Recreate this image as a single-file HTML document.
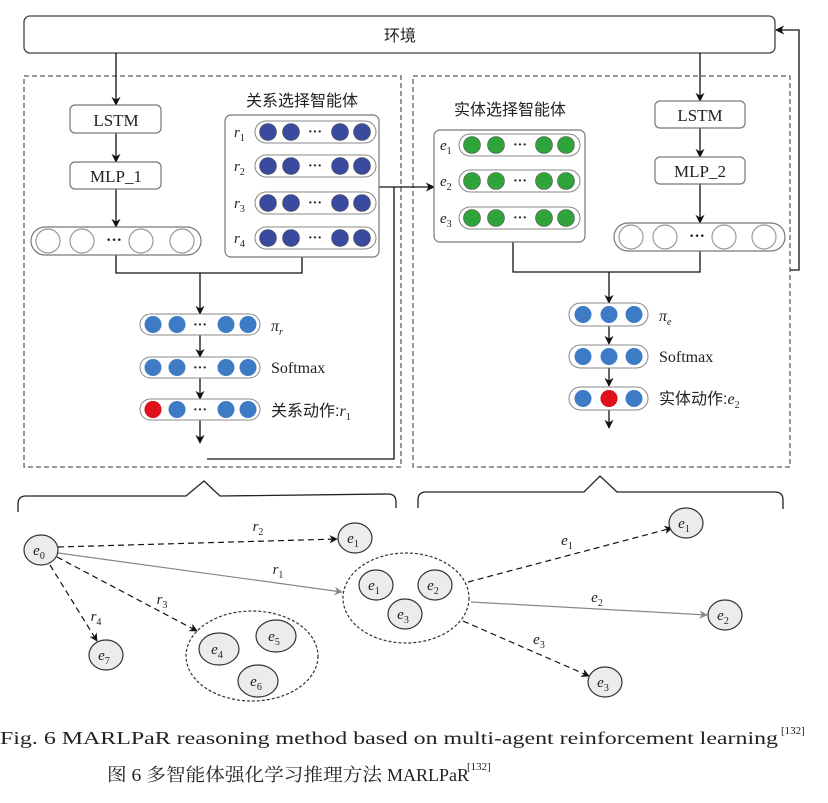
<!DOCTYPE html>
<html><head><meta charset="utf-8"><style>
html,body{margin:0;padding:0;background:#fff;width:828px;height:803px;overflow:hidden}
svg{display:block}
text{font-family:"Liberation Serif","Noto Serif CJK SC",serif;fill:#222}
.cj{font-family:"Liberation Sans","Noto Sans CJK SC",sans-serif}
</style></head><body>
<svg width="828" height="803" viewBox="0 0 828 803" xmlns="http://www.w3.org/2000/svg">
<defs>
<marker id="a" viewBox="0 0 10 10" refX="9" refY="5" markerWidth="7" markerHeight="7" orient="auto"><path d="M0,0L10,5L0,10L3,5z" fill="#111"/></marker>
<marker id="g" viewBox="0 0 10 10" refX="9" refY="5" markerWidth="7" markerHeight="7" orient="auto"><path d="M0,0L10,5L0,10L3,5z" fill="#888"/></marker>
</defs>
<rect x="24" y="16" width="751" height="37" rx="6" fill="#fff" stroke="#444" stroke-width="1.3"/>
<text x="400" y="41" font-size="16" text-anchor="middle" class="cj">环境</text>
<rect x="24" y="76" width="377" height="391" fill="none" stroke="#333" stroke-dasharray="5,3"/>
<rect x="413" y="76" width="377" height="391" fill="none" stroke="#333" stroke-dasharray="5,3"/>
<polyline points="790,270 799,270 799,30 776,30" fill="none" stroke="#111" stroke-width="1.3" marker-end="url(#a)"/>
<g stroke="#111" stroke-width="1.3" fill="none">
<line x1="116" y1="53" x2="116" y2="105" marker-end="url(#a)"/>
<line x1="116" y1="133" x2="116" y2="162" marker-end="url(#a)"/>
<line x1="116" y1="189" x2="116" y2="227" marker-end="url(#a)"/>
<polyline points="116,255 116,273 302,273 302,257"/>
<line x1="200" y1="273" x2="200" y2="314" marker-end="url(#a)"/>
<line x1="200" y1="335" x2="200" y2="357" marker-end="url(#a)"/>
<line x1="200" y1="378" x2="200" y2="399" marker-end="url(#a)"/>
<line x1="200" y1="420" x2="200" y2="443" marker-end="url(#a)"/>
<polyline points="207,459 394,459 394,187"/>
<line x1="379" y1="187" x2="434" y2="187" marker-end="url(#a)"/>
<line x1="700" y1="53" x2="700" y2="101" marker-end="url(#a)"/>
<line x1="700" y1="128" x2="700" y2="157" marker-end="url(#a)"/>
<line x1="700" y1="184" x2="700" y2="223" marker-end="url(#a)"/>
<polyline points="513,242 513,272 700,272 700,251"/>
<line x1="609" y1="272" x2="609" y2="303" marker-end="url(#a)"/>
<line x1="609" y1="326" x2="609" y2="344" marker-end="url(#a)"/>
<line x1="609" y1="368" x2="609" y2="386" marker-end="url(#a)"/>
<line x1="609" y1="410" x2="609" y2="428" marker-end="url(#a)"/>
</g>
<g fill="#fff" stroke="#777" stroke-width="1.2">
<rect x="70" y="105" width="91" height="28" rx="5"/>
<rect x="70" y="162" width="91" height="27" rx="5"/>
<rect x="655" y="101" width="90" height="27" rx="5"/>
<rect x="655" y="157" width="90" height="27" rx="5"/>
<rect x="31" y="227" width="170" height="28" rx="14"/>
<rect x="614" y="223" width="171" height="28" rx="14"/>
<rect x="225" y="115" width="154" height="142" rx="6"/>
<rect x="434" y="130" width="151" height="112" rx="6"/>
</g>
<text x="116" y="126" font-size="17" text-anchor="middle">LSTM</text>
<text x="116" y="182" font-size="17" text-anchor="middle">MLP_1</text>
<text x="700" y="121" font-size="17" text-anchor="middle">LSTM</text>
<text x="700" y="177" font-size="17" text-anchor="middle">MLP_2</text>
<g fill="#fff" stroke="#999" stroke-width="1.2">
<circle cx="48" cy="241" r="12"/><circle cx="82" cy="241" r="12"/><circle cx="141" cy="241" r="12"/><circle cx="182" cy="241" r="12"/>
<circle cx="631" cy="237" r="12"/><circle cx="665" cy="237" r="12"/><circle cx="724" cy="237" r="12"/><circle cx="764" cy="237" r="12"/>
</g>
<text x="114" y="245" font-size="16" text-anchor="middle" font-weight="bold">···</text>
<text x="697" y="241" font-size="16" text-anchor="middle" font-weight="bold">···</text>
<text x="302" y="106" font-size="16" text-anchor="middle" class="cj">关系选择智能体</text>
<text x="510" y="115" font-size="16" text-anchor="middle" class="cj">实体选择智能体</text>
<g id="rr">
<rect x="255" y="121" width="121" height="22" rx="11" fill="#fff" stroke="#888"/>
<circle cx="268" cy="132" r="8.5" fill="#3a4a9e" stroke="#555" stroke-width=".6"/>
<circle cx="291" cy="132" r="8.5" fill="#3a4a9e" stroke="#555" stroke-width=".6"/>
<circle cx="340" cy="132" r="8.5" fill="#3a4a9e" stroke="#555" stroke-width=".6"/>
<circle cx="362" cy="132" r="8.5" fill="#3a4a9e" stroke="#555" stroke-width=".6"/>
<text x="315" y="136" font-size="14" text-anchor="middle" font-weight="bold">···</text>
</g>
<use href="#rr" y="34"/><use href="#rr" y="71"/><use href="#rr" y="106"/>
<text x="234" y="137" font-size="15" font-style="italic">r<tspan font-size="10" dy="4" font-style="normal">1</tspan></text>
<text x="234" y="171" font-size="15" font-style="italic">r<tspan font-size="10" dy="4" font-style="normal">2</tspan></text>
<text x="234" y="208" font-size="15" font-style="italic">r<tspan font-size="10" dy="4" font-style="normal">3</tspan></text>
<text x="234" y="243" font-size="15" font-style="italic">r<tspan font-size="10" dy="4" font-style="normal">4</tspan></text>
<g id="er">
<rect x="459" y="134" width="121" height="22" rx="11" fill="#fff" stroke="#888"/>
<circle cx="472" cy="145" r="8.5" fill="#2ea43a" stroke="#555" stroke-width=".6"/>
<circle cx="496" cy="145" r="8.5" fill="#2ea43a" stroke="#555" stroke-width=".6"/>
<circle cx="544" cy="145" r="8.5" fill="#2ea43a" stroke="#555" stroke-width=".6"/>
<circle cx="566" cy="145" r="8.5" fill="#2ea43a" stroke="#555" stroke-width=".6"/>
<text x="520" y="149" font-size="14" text-anchor="middle" font-weight="bold">···</text>
</g>
<use href="#er" y="36"/><use href="#er" y="73"/>
<text x="440" y="150" font-size="15" font-style="italic">e<tspan font-size="10" dy="4" font-style="normal">1</tspan></text>
<text x="440" y="186" font-size="15" font-style="italic">e<tspan font-size="10" dy="4" font-style="normal">2</tspan></text>
<text x="440" y="223" font-size="15" font-style="italic">e<tspan font-size="10" dy="4" font-style="normal">3</tspan></text>
<g id="pr">
<rect x="140" y="314" width="120" height="21" rx="10.5" fill="#fff" stroke="#888"/>
<circle cx="153" cy="324.5" r="8.5" fill="#3d7cc4"/><circle cx="177" cy="324.5" r="8.5" fill="#3d7cc4"/>
<circle cx="226" cy="324.5" r="8.5" fill="#3d7cc4"/><circle cx="248" cy="324.5" r="8.5" fill="#3d7cc4"/>
<text x="200" y="329" font-size="14" text-anchor="middle" font-weight="bold">···</text>
</g>
<use href="#pr" y="43"/><use href="#pr" y="85"/>
<circle cx="153" cy="409.5" r="8.5" fill="#e0101a"/>
<text x="271" y="331" font-size="16" font-style="italic">π<tspan font-size="10" dy="4">r</tspan></text>
<text x="271" y="373" font-size="16">Softmax</text>
<text x="271" y="416" font-size="16" class="cj">关系动作:<tspan font-family="Liberation Serif" font-style="italic">r</tspan><tspan font-size="10" dy="4" font-family="Liberation Serif">1</tspan></text>
<g id="pe">
<rect x="569" y="303" width="79" height="23" rx="11.5" fill="#fff" stroke="#888"/>
<circle cx="583" cy="314.5" r="8.5" fill="#3d7cc4"/><circle cx="609" cy="314.5" r="8.5" fill="#3d7cc4"/><circle cx="634" cy="314.5" r="8.5" fill="#3d7cc4"/>
</g>
<use href="#pe" y="42"/><use href="#pe" y="84"/>
<circle cx="609" cy="398.5" r="8.5" fill="#e0101a"/>
<text x="659" y="321" font-size="16" font-style="italic">π<tspan font-size="10" dy="4">e</tspan></text>
<text x="659" y="362" font-size="16">Softmax</text>
<text x="659" y="404" font-size="16" class="cj">实体动作:<tspan font-family="Liberation Serif" font-style="italic">e</tspan><tspan font-size="10" dy="4" font-family="Liberation Serif">2</tspan></text>
<g fill="none" stroke="#222" stroke-width="1.3">
<path d="M18,512 L18,504 Q18,496 26,496 L186,496 L204,481 L220,496 L388,494 Q396,494 396,502 L396,508"/>
<path d="M418,508 L418,500 Q418,492 426,492 L584,492 L600,476 L617,492 L775,492 Q783,492 783,500 L783,509"/>
</g>
<g fill="none" stroke-width="1.2">
<line x1="58" y1="547" x2="337" y2="539" stroke="#111" stroke-dasharray="6,4" marker-end="url(#a)"/>
<line x1="58" y1="553" x2="342" y2="592" stroke="#888" marker-end="url(#g)"/>
<line x1="57" y1="557" x2="197" y2="631" stroke="#111" stroke-dasharray="6,4" marker-end="url(#a)"/>
<line x1="50" y1="565" x2="97" y2="641" stroke="#111" stroke-dasharray="6,4" marker-end="url(#a)"/>
<line x1="468" y1="582" x2="672" y2="528" stroke="#111" stroke-dasharray="6,4" marker-end="url(#a)"/>
<line x1="471" y1="602" x2="707" y2="615" stroke="#888" marker-end="url(#g)"/>
<line x1="463" y1="621" x2="589" y2="676" stroke="#111" stroke-dasharray="6,4" marker-end="url(#a)"/>
<ellipse cx="406" cy="598" rx="63" ry="45" stroke="#333" stroke-dasharray="3,2"/>
<ellipse cx="252" cy="656" rx="66" ry="45" stroke="#333" stroke-dasharray="3,2"/>
</g>
<g fill="#ececec" stroke="#333" stroke-width="1.2">
<ellipse cx="41" cy="550" rx="17" ry="15"/><ellipse cx="355" cy="538" rx="17" ry="15"/>
<ellipse cx="376" cy="585" rx="17" ry="15"/><ellipse cx="435" cy="585" rx="17" ry="15"/><ellipse cx="405" cy="614" rx="17" ry="15"/>
<ellipse cx="686" cy="523" rx="17" ry="15"/><ellipse cx="725" cy="615" rx="17" ry="15"/><ellipse cx="605" cy="682" rx="17" ry="15"/>
<ellipse cx="106" cy="655" rx="17" ry="15"/>
<ellipse cx="219" cy="649" rx="20" ry="16"/><ellipse cx="276" cy="636" rx="20" ry="16"/><ellipse cx="258" cy="681" rx="20" ry="16"/>
</g>
<g font-size="15" font-style="italic" text-anchor="middle">
<text x="39" y="555">e<tspan font-size="10" dy="4" font-style="normal">0</tspan></text>
<text x="353" y="543">e<tspan font-size="10" dy="4" font-style="normal">1</tspan></text>
<text x="374" y="590">e<tspan font-size="10" dy="4" font-style="normal">1</tspan></text>
<text x="433" y="590">e<tspan font-size="10" dy="4" font-style="normal">2</tspan></text>
<text x="403" y="619">e<tspan font-size="10" dy="4" font-style="normal">3</tspan></text>
<text x="684" y="528">e<tspan font-size="10" dy="4" font-style="normal">1</tspan></text>
<text x="723" y="620">e<tspan font-size="10" dy="4" font-style="normal">2</tspan></text>
<text x="603" y="687">e<tspan font-size="10" dy="4" font-style="normal">3</tspan></text>
<text x="104" y="660">e<tspan font-size="10" dy="4" font-style="normal">7</tspan></text>
<text x="217" y="654">e<tspan font-size="10" dy="4" font-style="normal">4</tspan></text>
<text x="274" y="641">e<tspan font-size="10" dy="4" font-style="normal">5</tspan></text>
<text x="256" y="686">e<tspan font-size="10" dy="4" font-style="normal">6</tspan></text>
<text x="258" y="531">r<tspan font-size="10" dy="4" font-style="normal">2</tspan></text>
<text x="278" y="574">r<tspan font-size="10" dy="4" font-style="normal">1</tspan></text>
<text x="162" y="604">r<tspan font-size="10" dy="4" font-style="normal">3</tspan></text>
<text x="96" y="621">r<tspan font-size="10" dy="4" font-style="normal">4</tspan></text>
<text x="567" y="545">e<tspan font-size="10" dy="4" font-style="normal">1</tspan></text>
<text x="597" y="602">e<tspan font-size="10" dy="4" font-style="normal">2</tspan></text>
<text x="539" y="644">e<tspan font-size="10" dy="4" font-style="normal">3</tspan></text>
</g>
<text x="0" y="744" font-size="18" textLength="778" lengthAdjust="spacingAndGlyphs">Fig. 6   MARLPaR reasoning method based on multi-agent reinforcement learning</text>
<text x="781" y="734" font-size="11">[132]</text>
<text x="107" y="781" font-size="18" font-family="Liberation Serif, Noto Serif CJK SC, serif" textLength="275" lengthAdjust="spacingAndGlyphs">图 6   多智能体强化学习推理方法</text>
<text x="387" y="781" font-size="18">MARLPaR</text>
<text x="467" y="770" font-size="11">[132]</text>
</svg>
</body></html>
